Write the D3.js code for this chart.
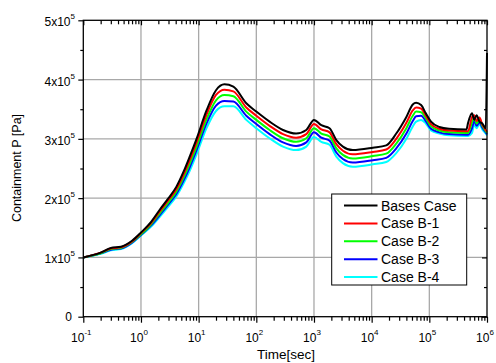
<!DOCTYPE html>
<html>
<head>
<meta charset="utf-8">
<script src="https://cdn.jsdelivr.net/npm/d3@7"></script>
<style>
  html, body { margin: 0; padding: 0; background: #fff; }
  svg { display: block; font-family: "Liberation Sans", Arial, sans-serif; }
</style>
</head>
<body>
<svg id="chart" width="496" height="363"></svg>
<script>
// Time points [s]
const times = [0.1, 0.2, 0.3, 0.45, 0.7, 1, 1.5, 2.1, 3, 4.1, 5.5, 7, 9.2, 13.7, 20, 28, 40, 67, 100, 170, 290, 490, 735, 1000, 1340, 1860, 2440, 3170, 4700, 10500, 17900, 26700, 40000, 51600, 59000, 72000, 87000, 107000, 149000, 220000, 440000, 470000, 550000, 600000, 660000, 740000, 830000, 950000, 1000000];

// Containment pressure [x10^5 Pa]
const baseCase = [1.00, 1.08, 1.16, 1.18, 1.28, 1.42, 1.60, 1.80, 2.00, 2.19, 2.45, 2.70, 3.00, 3.48, 3.82, 3.92, 3.88, 3.60, 3.46, 3.29, 3.15, 3.09, 3.15, 3.32, 3.23, 3.18, 2.98, 2.87, 2.81, 2.85, 2.89, 3.09, 3.37, 3.58, 3.61, 3.57, 3.43, 3.29, 3.20, 3.17, 3.16, 3.27, 3.43, 3.32, 3.40, 3.29, 3.26, 3.18, 4.45];
const caseB1 = [1.00, 1.08, 1.15, 1.17, 1.27, 1.41, 1.58, 1.77, 1.97, 2.15, 2.40, 2.64, 2.94, 3.41, 3.74, 3.83, 3.80, 3.53, 3.39, 3.22, 3.08, 3.02, 3.08, 3.25, 3.16, 3.11, 2.91, 2.80, 2.74, 2.78, 2.82, 3.00, 3.27, 3.48, 3.53, 3.51, 3.39, 3.25, 3.17, 3.14, 3.13, 3.13, 3.37, 3.40, 3.30, 3.36, 3.24, 3.15, 3.12];
const caseB2 = [1.00, 1.07, 1.14, 1.16, 1.26, 1.39, 1.56, 1.74, 1.93, 2.11, 2.35, 2.58, 2.87, 3.33, 3.65, 3.74, 3.72, 3.46, 3.32, 3.15, 3.01, 2.95, 3.01, 3.18, 3.09, 3.04, 2.84, 2.73, 2.67, 2.71, 2.75, 2.92, 3.18, 3.39, 3.46, 3.45, 3.35, 3.21, 3.14, 3.11, 3.10, 3.10, 3.28, 3.36, 3.26, 3.32, 3.22, 3.13, 3.10];
const caseB3 = [1.00, 1.07, 1.13, 1.15, 1.25, 1.38, 1.54, 1.71, 1.90, 2.07, 2.30, 2.52, 2.81, 3.26, 3.56, 3.64, 3.63, 3.39, 3.25, 3.08, 2.94, 2.88, 2.94, 3.11, 3.02, 2.97, 2.77, 2.66, 2.60, 2.64, 2.68, 2.84, 3.09, 3.30, 3.38, 3.39, 3.30, 3.17, 3.11, 3.08, 3.07, 3.07, 3.18, 3.30, 3.22, 3.28, 3.19, 3.11, 3.08];
const caseB4 = [1.00, 1.06, 1.12, 1.14, 1.24, 1.37, 1.52, 1.68, 1.86, 2.03, 2.25, 2.46, 2.74, 3.18, 3.47, 3.55, 3.55, 3.32, 3.18, 3.01, 2.87, 2.81, 2.87, 3.03, 2.95, 2.90, 2.70, 2.59, 2.53, 2.57, 2.61, 2.76, 3.00, 3.21, 3.29, 3.32, 3.26, 3.14, 3.09, 3.06, 3.05, 3.05, 3.10, 3.24, 3.18, 3.25, 3.16, 3.09, 3.06];

const seriesNames = ["Bases Case", "Case B-1", "Case B-2", "Case B-3", "Case B-4"];
const seriesColors = ["#000000", "#ff0000", "#00ff00", "#0000ff", "#00ffff"];
const seriesValues = [baseCase, caseB1, caseB2, caseB3, caseB4];

const xTickExps = [-1, 0, 1, 2, 3, 4, 5, 6];
const yTickMantissas = [0, 1, 2, 3, 4, 5];

const svg = d3.select("#chart");
const L = 83.3, R = 487, T = 20.3, B = 316.7;

const x = d3.scaleLog().domain([0.1, 1e6]).range([L, R]);
const y = d3.scaleLinear().domain([0, 5]).range([B, T]);

const majorX = xTickExps.map(e => Math.pow(10, e));
const minorX = [];
for (let e = -1; e < 6; e++) for (let m = 2; m <= 9; m++) minorX.push(m * Math.pow(10, e));
const minorY = [0.5, 1.5, 2.5, 3.5, 4.5];

// grid lines
const grid = svg.append("g").attr("stroke", "#a8a8a8").attr("stroke-width", 1.3);
grid.selectAll("line.gx").data(majorX.slice(1, -1)).join("line")
  .attr("x1", d => x(d)).attr("x2", d => x(d)).attr("y1", T).attr("y2", B);
grid.selectAll("line.gy").data(yTickMantissas.slice(1, -1)).join("line")
  .attr("x1", L).attr("x2", R).attr("y1", d => y(d)).attr("y2", d => y(d));

// data curves
svg.append("clipPath").attr("id", "plotclip").append("rect")
  .attr("x", L).attr("y", T - 1).attr("width", R - L + 1).attr("height", B - T + 1);
const line = d3.line().x((d, i) => x(times[i])).y(d => y(d)).curve(d3.curveMonotoneX);
const curves = svg.append("g").attr("clip-path", "url(#plotclip)");
seriesValues.slice().reverse().forEach((vals, ri) => {
  const i = seriesValues.length - 1 - ri;
  curves.append("path").datum(vals)
    .attr("d", line).attr("fill", "none")
    .attr("stroke", seriesColors[i]).attr("stroke-width", 2)
    .attr("stroke-linejoin", "round");
});

// axes (ticks only, labels drawn separately)
function styleAxis(g) {
  g.select(".domain").remove();
  g.selectAll(".tick line").attr("stroke", "#000").attr("stroke-width", 1.2);
  g.selectAll(".tick text").remove();
}
svg.append("g").attr("transform", `translate(0,${B})`)
  .call(d3.axisBottom(x).tickValues(majorX).tickSize(6)).call(styleAxis);
svg.append("g").attr("transform", `translate(0,${B})`)
  .call(d3.axisBottom(x).tickValues(minorX).tickSize(4)).call(styleAxis);
svg.append("g").attr("transform", `translate(0,${T})`)
  .call(d3.axisBottom(x).tickValues(majorX).tickSize(5)).call(styleAxis);
svg.append("g").attr("transform", `translate(0,${T})`)
  .call(d3.axisBottom(x).tickValues(minorX).tickSize(4)).call(styleAxis);
svg.append("g").attr("transform", `translate(${L},0)`)
  .call(d3.axisLeft(y).tickValues(yTickMantissas).tickSize(5)).call(styleAxis);
svg.append("g").attr("transform", `translate(${L},0)`)
  .call(d3.axisLeft(y).tickValues(minorY).tickSize(3)).call(styleAxis);
svg.append("g").attr("transform", `translate(${R},0)`)
  .call(d3.axisLeft(y).tickValues(yTickMantissas).tickSize(5)).call(styleAxis);
svg.append("g").attr("transform", `translate(${R},0)`)
  .call(d3.axisLeft(y).tickValues(minorY).tickSize(3)).call(styleAxis);

// frame
svg.append("rect").attr("x", L).attr("y", T).attr("width", R - L).attr("height", B - T)
  .attr("fill", "none").attr("stroke", "#000").attr("stroke-width", 1.3);

// x tick labels: 10^n
const xl = svg.append("g").attr("fill", "#000");
xTickExps.forEach(e => {
  const t = xl.append("text").attr("x", x(Math.pow(10, e)) - 2).attr("y", 342)
    .attr("text-anchor", "middle").attr("font-size", 12);
  t.append("tspan").text("10");
  t.append("tspan").attr("font-size", 8).attr("dy", -7).text(String(e));
});

// y tick labels: n x10^5
yTickMantissas.forEach(m => {
  if (m === 0) {
    xl.append("text").attr("x", 72).attr("y", y(m) + 4.5)
      .attr("text-anchor", "end").attr("font-size", 12).text("0");
  } else {
    const t = xl.append("text").attr("x", 75).attr("y", y(m) + 6)
      .attr("text-anchor", "end").attr("font-size", 12);
    t.append("tspan").text(m + "x10");
    t.append("tspan").attr("font-size", 8).attr("dy", -7).text("5");
  }
});

// axis titles
svg.append("text").attr("transform", "translate(21,168) rotate(-90)")
  .attr("text-anchor", "middle").attr("font-size", 12.5).text("Containment P [Pa]");
svg.append("text").attr("x", 286).attr("y", 359)
  .attr("text-anchor", "middle").attr("font-size", 13.5).text("Time[sec]");

// legend
const lg = svg.append("g");
lg.append("rect").attr("x", 331.7).attr("y", 194).attr("width", 135).attr("height", 91)
  .attr("fill", "#fff").attr("stroke", "#000").attr("stroke-width", 1);
seriesNames.forEach((name, i) => {
  const yy = 205.5 + i * 17.9;
  lg.append("line").attr("x1", 344).attr("x2", 377.5).attr("y1", yy).attr("y2", yy)
    .attr("stroke", seriesColors[i]).attr("stroke-width", 2);
  lg.append("text").attr("x", 381).attr("y", yy + 5).attr("font-size", 14).text(name);
});
</script>
</body>
</html>
